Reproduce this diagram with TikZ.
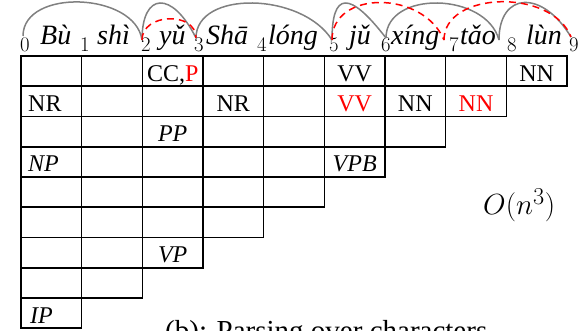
\documentclass[tikz,border=0pt]{standalone}
\usepackage{graphicx}
\usepackage{fontspec}
\setmainfont{Liberation Serif}
\begin{document}
\begin{tikzpicture}[x=1pt,y=-1pt,
  gridline/.style={line width=1.6pt},
  lbl/.style={font=\fontsize{24}{24}\selectfont, anchor=base, inner sep=0pt},
  lblw/.style={lbl, anchor=base west},
  wrd/.style={font=\fontsize{28}{28}\selectfont\itshape, anchor=base west, inner sep=0pt},
  idx/.style={font=\fontsize{21}{21}\selectfont, anchor=base west, inner sep=0pt},
  garc/.style={draw=black!50, line width=1.5pt},
  rarc/.style={draw=red, line width=1.5pt, dash pattern=on 7pt off 5pt},
]
\useasboundingbox (0,0) rectangle (584,331);
\clip (0,0) rectangle (584,331);
% chart grid
\foreach \r in {0,...,8}{
  \pgfmathtruncatemacro\nc{8-\r}
  \foreach \c in {0,...,\nc}{
    \draw[gridline] ({21+\c*60.667},{56+\r*30.25}) rectangle ++(60.667,30.25);
  }
}
% indices
\node[idx] (i0) at (20,52) {$0$};
\node[idx] (i1) at (80,52) {$1$};
\node[idx] (i2) at (141,52) {$2$};
\node[idx] (i3) at (194,52) {$3$};
\node[idx] (i4) at (257,52) {$4$};
\node[idx] (i5) at (329,52) {$5$};
\node[idx] (i6) at (381,52) {$6$};
\node[idx] (i7) at (449,52) {$7$};
\node[idx] (i8) at (507,52) {$8$};
\node[idx] (i9) at (569,52) {$9$};
% words
\node[wrd] (w1) at (40,45) {Bù};
\node[wrd] (w2) at (97,45) {shì};
\node[wrd] (w3) at (159,45) {yǔ};
\node[wrd] (w4) at (206,45) {Shā};
\node[wrd] (w5) at (268,45) {lóng};
\node[wrd] (w6) at (349,45) {jǔ};
\node[wrd] (w7) at (391,45) {xíng};
\node[wrd] (w8) at (460,45) {tǎo};
\node[wrd] (w9) at (526,45) {lùn};
% arc end points
\coordinate (p0) at (23,36);
\coordinate (p2) at (142,40);
\coordinate (p3) at (196,38);
\coordinate (p5) at (332,40);
\coordinate (p6) at (386,38);
\coordinate (p7) at (444,40);
\coordinate (p8) at (499,40);
\coordinate (p9) at (571,37);
% gray arcs
\draw[garc] (p0) .. controls +(0,-48) and +(-7,-48) .. (p2);
\draw[garc] (p2) .. controls +(0,-48) and +(-24,-48) .. (p3);
\draw[garc] (p3) .. controls +(0,-48) and +(-30,-48) .. (p5);
\draw[garc] (p5) .. controls +(0,-48) and +(-37,-48) .. (p6);
\draw[garc] (p6) .. controls +(0,-48) and +(-13,-48) .. (p8);
\draw[garc] (p8) .. controls +(0,-48) and +(-29,-48) .. (p9);
% red dashed arcs
\draw[rarc] (p2) .. controls +(0,-27) and +(0,-27) .. (p3);
\draw[rarc] (p5) .. controls +(0,-50) and +(-21,-50) .. (p7);
\draw[rarc] (p7) .. controls +(0,-49) and +(-19,-49) .. (p9);
% cell labels
\node[lbl] (c02) at (172.7,81.25) {CC,\textcolor{red}{P}};
\node[lbl] (c05) at (354.7,81.25) {VV};
\node[lbl] (c08) at (536.7,81.25) {NN};
\node[lblw] (c10) at (28,111.5) {NR};
\node[lbl] (c13) at (233.3,111.5) {NR};
\node[lbl,text=red] (c15) at (354.7,111.5) {VV};
\node[lbl] (c16) at (415.3,111.5) {NN};
\node[lbl,text=red] (c17) at (476,111.5) {NN};
\node[lbl] (c22) at (172.7,141.75) {\itshape PP};
\node[lblw] (c30) at (28,172) {\itshape NP};
\node[lbl] (c35) at (354.7,172) {\itshape VPB};
\node[lbl] (c62) at (172.7,262.75) {\itshape VP};
\node[lblw] (c80) at (30,323.25) {\itshape IP};
% complexity
\node[font=\fontsize{24.88}{25}\selectfont, anchor=base west, inner sep=0pt] (cx) at (483,215) {\scalebox{1.17}{$O(n^3)$}};
% caption (cut off at the bottom)
\node[font=\fontsize{29}{29}\selectfont, anchor=base west, inner sep=0pt] (cap) at (165,341) {(b): Parsing over characters};
\end{tikzpicture}
\end{document}
